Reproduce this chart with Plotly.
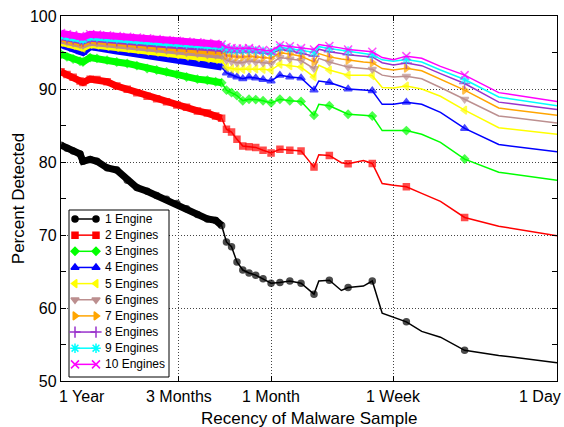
import numpy as np
import plotly.graph_objects as go

# ---------------- data ----------------
days = [365, 340, 316, 291, 281, 258, 238, 211, 188, 166, 148, 131, 117, 104, 92, 82, 72, 64, 58,
        54, 51, 48, 45, 42, 39, 36, 33, 30, 27, 24, 21, 18, 17, 15, 13, 12, 10, 9, 8, 7, 6, 5, 4, 3, 2, 1]

eng1 = [82.3, 81.9, 81.5, 81.1, 80.1, 80.35, 80.1, 79.2, 78.9, 77.5, 76.5, 76.0, 75.4, 74.9, 74.3, 73.6, 72.8, 72.2, 72.0,
        71.3, 69.05, 68.4, 66.3, 65.2, 64.8, 64.5, 64.0, 63.4, 63.5, 63.7, 63.4, 61.9, 63.7, 63.8, 62.4, 62.8, 63.0, 63.7,
        59.3, 58.7, 58.1, 56.8, 56.0, 54.2, 53.5, 52.5]
eng2 = [92.35, 92.0, 91.6, 91.1, 90.9, 91.35, 91.3, 91.0, 90.4, 89.95, 89.5, 89.0, 88.65, 88.25, 87.8, 87.5, 87.0, 86.7, 86.3,
        86.0, 84.5, 84.1, 83.1, 82.2, 82.1, 82.0, 81.6, 81.25, 81.75, 81.6, 81.5, 79.3, 81.0, 80.9, 79.9, 79.75, 80.2, 79.8,
        77.05, 76.8, 76.6, 75.7, 74.6, 72.4, 71.2, 69.9]
eng3 = [94.75, 94.4, 94.1, 93.8, 93.7, 94.3, 94.2, 93.95, 93.7, 93.5, 93.2, 92.8, 92.6, 92.35, 92.0, 91.65, 91.35, 91.2, 91.0,
        90.85, 89.85, 89.5, 89.1, 88.4, 88.6, 88.55, 88.4, 88.1, 88.6, 88.4, 88.3, 86.4, 87.9, 87.7, 86.9, 86.55, 86.4, 86.3,
        84.3, 84.3, 84.3, 83.8, 82.7, 80.4, 78.6, 77.5]
eng4 = [96.1, 95.8, 95.45, 95.1, 95.0, 95.8, 95.6, 95.4, 95.2, 95.0, 94.8, 94.6, 94.4, 94.2, 94.0, 93.8, 93.55, 93.35, 93.2,
        93.0, 92.2, 91.9, 91.65, 91.4, 91.65, 91.5, 91.3, 91.1, 91.9, 91.65, 91.5, 89.85, 91.1, 90.9, 90.35, 90.0, 89.85, 89.75,
        87.9, 87.9, 88.2, 87.9, 86.8, 84.6, 82.4, 81.4]
eng5 = [96.4, 96.2, 96.0, 95.75, 95.6, 96.1, 96.0, 95.85, 95.7, 95.55, 95.4, 95.2, 95.05, 94.9, 94.7, 94.5, 94.3, 94.15, 94.05,
        94.0, 93.0, 92.8, 92.7, 92.7, 92.8, 92.75, 92.7, 92.6, 93.4, 93.2, 93.0, 91.65, 93.25, 92.6, 92.2, 91.9, 91.9, 91.85,
        90.2, 90.15, 90.4, 90.0, 89.0, 87.1, 84.7, 83.8]
eng6 = [96.7, 96.5, 96.3, 96.1, 96.0, 96.4, 96.3, 96.2, 96.05, 95.9, 95.75, 95.6, 95.45, 95.3, 95.15, 95.0, 94.85, 94.7, 94.65,
        94.6, 93.95, 93.75, 93.6, 93.6, 93.85, 93.7, 93.6, 93.5, 94.3, 94.1, 93.9, 92.8, 94.2, 93.7, 93.25, 93.0, 92.8, 92.7,
        91.9, 91.65, 91.75, 91.4, 90.2, 88.6, 86.3, 85.35]
eng7 = [96.95, 96.8, 96.6, 96.4, 96.3, 96.7, 96.6, 96.5, 96.35, 96.2, 96.05, 95.95, 95.8, 95.65, 95.5, 95.4, 95.3, 95.2, 95.15,
        95.1, 94.6, 94.5, 94.4, 94.4, 94.5, 94.4, 94.3, 94.2, 94.95, 94.8, 94.5, 93.7, 94.85, 94.4, 94.1, 93.95, 93.7, 93.6,
        92.8, 92.6, 92.85, 92.5, 91.3, 89.85, 87.4, 86.4]
eng8 = [97.15, 97.0, 96.85, 96.65, 96.55, 96.95, 96.85, 96.75, 96.6, 96.5, 96.4, 96.3, 96.15, 96.05, 95.95, 95.85, 95.75, 95.65, 95.6,
        95.55, 95.1, 95.05, 95.0, 95.0, 95.1, 95.0, 94.9, 94.8, 95.4, 95.25, 94.9, 94.5, 95.45, 95.1, 94.85, 94.7, 94.5, 94.4,
        93.6, 93.3, 93.55, 93.2, 92.1, 90.75, 88.2, 87.2]
eng9 = [97.35, 97.2, 97.05, 96.9, 96.75, 97.15, 97.1, 97.0, 96.9, 96.8, 96.7, 96.6, 96.5, 96.35, 96.25, 96.15, 96.05, 95.95, 95.9,
        95.85, 95.45, 95.35, 95.3, 95.3, 95.35, 95.25, 95.15, 95.0, 95.7, 95.55, 95.3, 95.0, 95.8, 95.55, 95.3, 95.2, 94.9, 94.7,
        94.0, 93.8, 94.05, 93.7, 92.6, 91.3, 88.9, 87.7]
eng10 = [97.65, 97.5, 97.4, 97.25, 97.1, 97.5, 97.45, 97.35, 97.25, 97.15, 97.05, 96.95, 96.85, 96.7, 96.6, 96.5, 96.4, 96.3, 96.2,
         96.1, 95.75, 95.6, 95.55, 95.55, 95.6, 95.45, 95.35, 95.2, 96.0, 95.85, 95.6, 95.4, 96.1, 95.9, 95.6, 95.4, 95.2, 95.1,
         94.3, 94.0, 94.5, 94.2, 93.1, 91.9, 89.5, 88.3]

series_names = ["1 Engine", "2 Engines", "3 Engines", "4 Engines", "5 Engines",
                "6 Engines", "7 Engines", "8 Engines", "9 Engines", "10 Engines"]
series_values = [eng1, eng2, eng3, eng4, eng5, eng6, eng7, eng8, eng9, eng10]

tick_days = [365, 90, 30, 7, 1]
tick_text = ["1 Year", "3 Months", "1 Month", "1 Week", "1 Day"]

# ---------------- styles ----------------
colors = ["#000000", "#ff0000", "#00ff00", "#0000ff", "#ffff00",
          "#bc8f8f", "#ffa500", "#9932cc", "#00ffff", "#ff00ff"]
symbols = ["circle", "square", "diamond", "triangle-up", "triangle-left",
           "triangle-down", "triangle-right", "cross-thin-open", "asterisk-open", "x-thin-open"]
msizes = [6, 6, 6, 7, 7, 7, 7, 8, 8, 8]

W, H = 564, 427
ML, MR, MT, MB = 61, 7, 16, 46
PX0, PX1 = ML, W - MR
PY0, PY1 = MT, H - MB
FONT = "Liberation Sans, Arial, sans-serif"

fig = go.Figure()
d = np.array(days)
dense = d >= 54
marked = (d % 3 == 0) | (d > 54)

for name, vals, c, s, ms in zip(series_names, series_values, colors, symbols, msizes):
    v = np.array(vals)
    fig.add_trace(go.Scatter(x=d[dense], y=v[dense], mode="lines",
                             line=dict(color=c, width=7), showlegend=False, hoverinfo="skip"))
    fig.add_trace(go.Scatter(x=d, y=v, mode="lines+markers", name=name,
                             line=dict(color=c, width=1.5),
                             marker=dict(symbol=s, size=np.where(marked, ms, 0), color=c,
                                         line=dict(color=c, width=np.where(marked, 1.5, 0))),
                             showlegend=False))

# ---------------- custom legend (pixel-space overlay axes) ----------------
LB_X0, LB_X1, LB_Y0, LB_Y1 = 69, 169, 210, 377
ROW0, ROWSTEP = 219, 16.15
SX0, SX1, TX = 75, 96, 103

fig.add_trace(go.Scatter(x=[LB_X0, LB_X1, LB_X1, LB_X0, LB_X0], y=[LB_Y0, LB_Y0, LB_Y1, LB_Y1, LB_Y0],
                         mode="lines", fill="toself", fillcolor="white",
                         line=dict(color="black", width=1), xaxis="x2", yaxis="y2",
                         showlegend=False, hoverinfo="skip"))
annotations = []
for i, (name, c, s, ms) in enumerate(zip(series_names, colors, symbols, msizes)):
    ry = ROW0 + i * ROWSTEP
    fig.add_trace(go.Scatter(x=[SX0, SX1], y=[ry, ry], mode="lines+markers",
                             line=dict(color=c, width=1.5),
                             marker=dict(symbol=s, size=ms, color=c, line=dict(color=c, width=1.5)),
                             xaxis="x2", yaxis="y2", showlegend=False, hoverinfo="skip"))
    annotations.append(dict(x=TX, y=ry, xref="x2", yref="y2", text=name, showarrow=False,
                            xanchor="left", yanchor="middle",
                            font=dict(family=FONT, size=12, color="black")))

# x tick labels
for i, (td, tt) in enumerate(zip(tick_days, tick_text)):
    if i == 0:
        anchor, shift = "left", -4
    elif i == len(tick_days) - 1:
        anchor, shift = "right", 6
    else:
        anchor, shift = "center", 0
    annotations.append(dict(x=np.log10(td), y=0, xref="x", yref="paper", text=tt, showarrow=False,
                            xanchor=anchor, yanchor="top", xshift=shift, yshift=-5,
                            font=dict(family=FONT, size=16, color="black")))

# x axis title
annotations.append(dict(x=0.5, y=0, xref="paper", yref="paper", text="Recency of Malware Sample",
                        showarrow=False, xanchor="center", yanchor="top", yshift=-26,
                        font=dict(family=FONT, size=17, color="black")))

fig.update_layout(
    width=W, height=H,
    margin=dict(l=ML, r=MR, t=MT, b=MB, pad=0, autoexpand=False),
    paper_bgcolor="white", plot_bgcolor="white",
    font=dict(family=FONT, size=16, color="black"),
    showlegend=False,
    annotations=annotations,
    xaxis=dict(type="log", range=[np.log10(365), 0], autorange=False, automargin=False,
               tickvals=tick_days, showticklabels=False,
               ticks="inside", ticklen=5, tickcolor="black", tickwidth=1,
               showline=True, linecolor="black", linewidth=1.3, mirror="ticks",
               showgrid=True, gridcolor="#444", griddash="1px,2px", gridwidth=1,
               zeroline=False),
    yaxis=dict(range=[50, 100], autorange=False, tick0=50, dtick=10, automargin=False,
               ticks="inside", ticklen=5, tickcolor="black", tickwidth=1,
               showline=True, linecolor="black", linewidth=1.3, mirror="ticks",
               showgrid=True, gridcolor="#444", griddash="1px,2px", gridwidth=1,
               zeroline=False,
               minor=dict(dtick=5, ticks="inside", ticklen=5, tickcolor="black", showgrid=False),
               tickfont=dict(family=FONT, size=16),
               title=dict(text="Percent Detected", font=dict(family=FONT, size=17), standoff=0)),
    xaxis2=dict(overlaying="x", range=[PX0, PX1], autorange=False, visible=False, showgrid=False,
                zeroline=False, automargin=False),
    yaxis2=dict(overlaying="y", range=[PY1, PY0], autorange=False, visible=False, showgrid=False,
                zeroline=False, automargin=False),
)

fig.write_html("out.html")
